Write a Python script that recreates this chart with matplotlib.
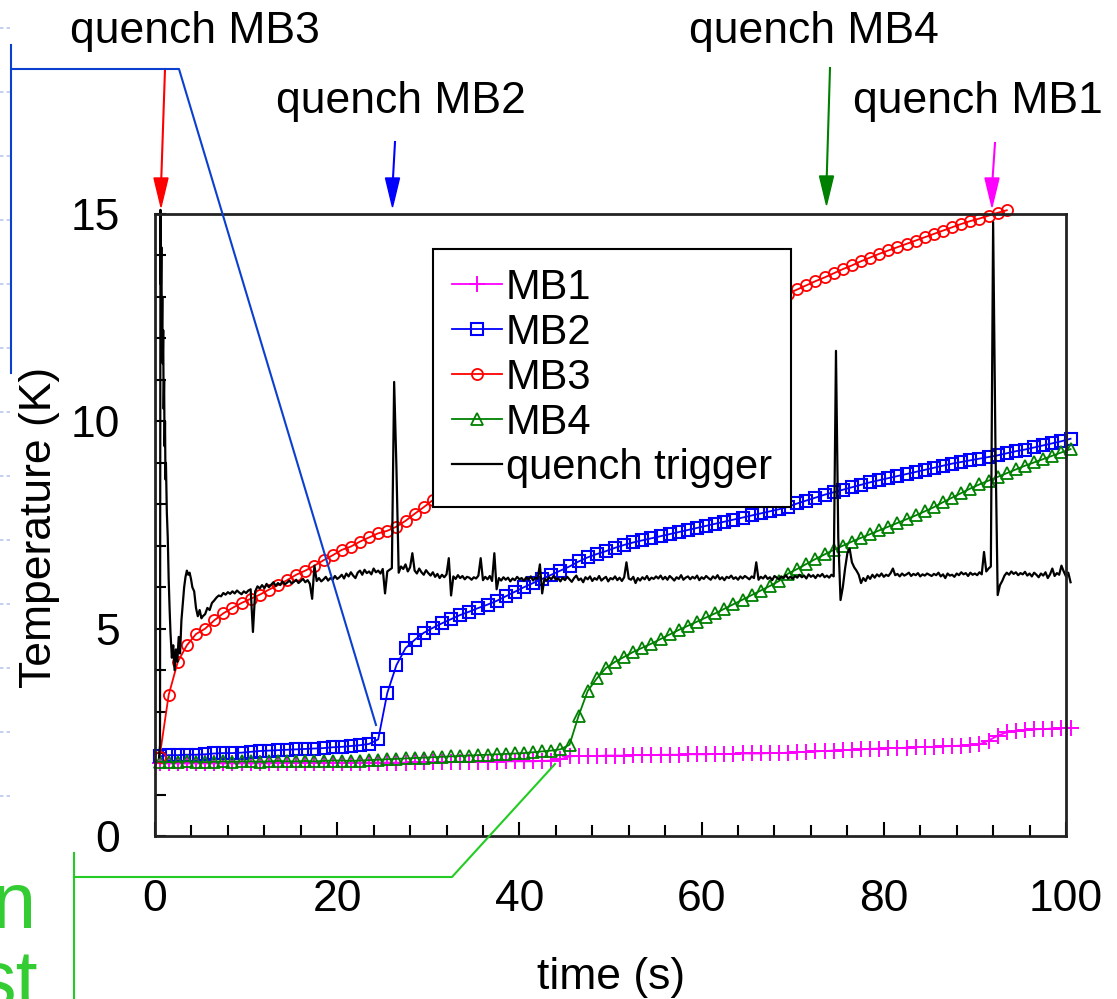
import numpy as np
import matplotlib
matplotlib.use("Agg")
import matplotlib.pyplot as plt
from matplotlib.lines import Line2D
from matplotlib.patches import Polygon
from matplotlib.ticker import MultipleLocator

plt.rcParams['font.family'] = ['Liberation Sans', 'DejaVu Sans']

# ---------------- data ----------------
# magnet temperatures sampled once per second, starting at t = 0.5 s
mb_start = 0.5
mb1 = [1.75, 1.75, 1.75, 1.75, 1.75, 1.75, 1.75, 1.75, 1.75, 1.75,
       1.75, 1.75, 1.75, 1.76, 1.76, 1.76, 1.76, 1.76, 1.76, 1.76,
       1.76, 1.76, 1.77, 1.77, 1.77, 1.77, 1.77, 1.77, 1.78, 1.78,
       1.78, 1.78, 1.78, 1.79, 1.79, 1.79, 1.79, 1.79, 1.80, 1.80,
       1.80, 1.80, 1.81, 1.82, 1.85, 1.92, 1.93, 1.93, 1.93, 1.94,
       1.94, 1.94, 1.95, 1.95, 1.95, 1.96, 1.96, 1.96, 1.97, 1.97,
       1.97, 1.98, 1.98, 1.98, 1.99, 1.99, 1.99, 2.00, 2.00, 2.01,
       2.02, 2.03, 2.04, 2.05, 2.06, 2.07, 2.08, 2.09, 2.10, 2.11,
       2.12, 2.12, 2.13, 2.14, 2.15, 2.15, 2.16, 2.17, 2.18, 2.19,
       2.21, 2.30, 2.42, 2.50, 2.53, 2.55, 2.57, 2.58, 2.59, 2.60, 2.61]

mb2 = [1.92, 1.95, 1.95, 1.96, 1.96, 1.97, 1.99, 2.00, 2.00, 2.01,
       2.03, 2.05, 2.06, 2.07, 2.08, 2.09, 2.10, 2.11, 2.12, 2.14,
       2.15, 2.17, 2.19, 2.22, 2.33, 3.45, 4.12, 4.53, 4.73, 4.90,
       5.02, 5.13, 5.23, 5.33, 5.41, 5.50, 5.58, 5.67, 5.78, 5.89,
       6.00, 6.10, 6.20, 6.30, 6.40, 6.50, 6.62, 6.72, 6.80, 6.87,
       6.95, 7.02, 7.08, 7.13, 7.18, 7.23, 7.28, 7.33, 7.38, 7.43,
       7.48, 7.53, 7.58, 7.63, 7.68, 7.73, 7.78, 7.83, 7.88, 7.94,
       8.02, 8.09, 8.16, 8.23, 8.29, 8.35, 8.41, 8.47, 8.53, 8.58,
       8.63, 8.68, 8.73, 8.78, 8.83, 8.88, 8.93, 8.98, 9.02, 9.06,
       9.10, 9.14, 9.18, 9.23, 9.28, 9.32, 9.37, 9.42, 9.47, 9.52, 9.58]

mb3 = [1.90, 3.40, 4.20, 4.60, 4.87, 5.00, 5.20, 5.37, 5.50, 5.62,
       5.72, 5.82, 5.94, 6.05, 6.17, 6.30, 6.40, 6.52, 6.65, 6.77,
       6.90, 6.98, 7.10, 7.20, 7.30, 7.36, 7.46, 7.60, 7.77, 7.93,
       8.10, 8.26, 8.42, 8.58, 8.73, 8.88, 9.03, 9.18, 9.33, 9.48,
       9.62, 9.76, 9.90, 10.04, 10.18, 10.31, 10.44, 10.57, 10.70, 10.83,
       10.96, 11.09, 11.21, 11.33, 11.45, 11.57, 11.69, 11.81, 11.92, 12.03,
       12.14, 12.25, 12.36, 12.47, 12.57, 12.68, 12.78, 12.88, 12.98, 13.08,
       13.18, 13.28, 13.38, 13.47, 13.57, 13.67, 13.76, 13.86, 13.95, 14.04,
       14.12, 14.20, 14.28, 14.36, 14.44, 14.52, 14.60, 14.68, 14.76, 14.83,
       14.89, 14.96, 15.03, 15.09]

mb4 = [1.79, 1.78, 1.79, 1.80, 1.79, 1.78, 1.79, 1.80, 1.79, 1.80,
       1.80, 1.79, 1.80, 1.81, 1.80, 1.80, 1.81, 1.80, 1.81, 1.82,
       1.82, 1.81, 1.82, 1.83, 1.84, 1.85, 1.86, 1.87, 1.88, 1.89,
       1.90, 1.91, 1.92, 1.93, 1.94, 1.95, 1.96, 1.97, 1.98, 1.99,
       2.00, 2.02, 2.04, 2.06, 2.09, 2.20, 2.90, 3.50, 3.80, 4.05,
       4.20, 4.32, 4.44, 4.54, 4.64, 4.75, 4.86, 4.97, 5.07, 5.17,
       5.27, 5.37, 5.48, 5.59, 5.70, 5.81, 5.92, 6.03, 6.15, 6.33,
       6.44, 6.56, 6.68, 6.79, 6.90, 7.00, 7.10, 7.19, 7.28, 7.37,
       7.46, 7.55, 7.64, 7.73, 7.83, 7.93, 8.05, 8.16, 8.27, 8.38,
       8.48, 8.57, 8.66, 8.75, 8.84, 8.93, 9.01, 9.09, 9.17, 9.25, 9.33]

# quench trigger signal: first seconds with irregular sampling ...
trig_head_t = [0.45, 0.55, 0.6, 0.65, 0.7, 0.75, 0.8, 0.85, 0.9, 0.95,
               1.0, 1.05, 1.1, 1.15, 1.2, 1.3, 1.4, 1.5, 1.6, 1.7,
               1.85, 2.0, 2.15, 2.3, 2.45, 2.6, 2.75, 2.9, 3.05, 3.2,
               3.35, 3.5, 3.65, 3.8, 3.95, 4.1, 4.3, 4.5, 4.7, 4.9, 5.1]
trig_head_v = [1.9, 2.2, 15.1, 13.3, 14.2, 12.2, 13.0, 11.4, 12.2, 10.3,
               11.0, 9.4, 10.0, 8.6, 9.0, 7.8, 7.2, 6.2, 5.5, 4.9,
               4.3, 4.6, 4.0, 4.5, 4.2, 4.8, 4.4, 5.2, 5.6, 6.0,
               6.25, 6.4, 6.3, 6.35, 6.2, 6.0, 5.9, 5.5, 5.3, 5.45, 5.25]
# ... then every 0.25 s from t = 5.25 s
trig_start, trig_step = 5.25, 0.25
trig_v = [
    5.30, 5.35, 5.50, 5.45, 5.62, 5.68, 5.75, 5.80, 5.78, 5.86, 5.82, 5.88, 5.84, 5.90, 5.85, 5.92, 5.87, 5.83, 5.90, 5.86,
    5.92, 5.95, 4.92, 5.90, 6.02, 5.97, 6.05, 5.98, 6.08, 6.00, 6.06, 6.12, 6.03, 6.10, 6.05, 6.14, 6.07, 6.11, 6.16, 6.09,
    6.13, 6.18, 6.10, 6.15, 6.20, 6.12, 6.17, 6.08, 5.72, 6.52, 6.15, 6.22, 6.14, 6.19, 6.25, 6.16, 6.22, 6.18, 6.27, 6.20,
    6.24, 6.30, 6.21, 6.33, 6.26, 6.36, 6.28, 6.22, 6.35, 6.40, 6.30, 6.42, 6.34, 6.38, 6.31, 6.45, 6.36, 6.40, 6.33, 6.44,
    5.85, 6.38, 6.42, 6.46, 10.95, 8.90, 6.35, 6.50, 6.44, 6.55, 6.38, 6.48, 6.82, 6.40, 6.33, 6.45, 6.36, 6.30, 6.41, 6.34,
    6.28, 6.36, 6.25, 6.32, 6.22, 6.30, 6.24, 6.31, 6.70, 5.80, 6.26, 6.20, 6.29, 6.22, 6.27, 6.19, 6.25, 6.23, 6.18, 6.24,
    6.21, 6.28, 6.70, 6.17, 6.25, 6.19, 6.27, 6.15, 6.82, 5.95, 6.22, 6.16, 6.24, 6.18, 6.23, 6.14, 6.21, 6.17, 6.25, 6.19,
    6.22, 6.15, 6.24, 6.18, 6.26, 6.16, 6.23, 6.20, 6.55, 5.85, 6.21, 6.16, 6.24, 6.19, 6.27, 6.18, 6.22, 6.14, 6.23, 6.17,
    6.25, 6.19, 6.13, 6.22, 6.28, 6.17, 6.21, 6.12, 6.24, 6.19, 6.26, 6.15, 6.22, 6.18, 6.27, 6.16, 6.21, 6.25, 6.14, 6.22,
    6.19, 6.26, 6.17, 6.23, 6.15, 6.24, 6.60, 6.21, 6.18, 6.25, 6.10, 6.22, 6.16, 6.24, 6.19, 6.27, 6.17, 6.23, 6.20, 6.26,
    6.21, 6.28, 6.19, 6.25, 6.18, 6.27, 6.22, 6.16, 6.24, 6.20, 6.29, 6.18, 6.23, 6.26, 6.19, 6.25, 6.21, 6.28, 6.17, 6.24,
    6.20, 6.27, 6.22, 6.18, 6.26, 6.21, 6.29, 6.19, 6.24, 6.17, 6.25, 6.22, 6.28, 6.20, 6.24, 6.18, 6.26, 6.21, 6.27, 6.23,
    6.19, 6.26, 6.22, 6.60, 6.18, 6.25, 6.21, 6.28, 6.20, 6.24, 6.17, 6.27, 6.23, 6.19, 6.26, 6.22, 6.29, 6.21, 6.25, 6.20,
    6.27, 6.23, 6.30, 6.24, 6.28, 6.21, 6.31, 6.25, 6.29, 6.22, 6.30, 6.26, 6.32, 6.24, 6.28, 6.23, 6.30, 6.26, 11.70, 7.20,
    5.69, 6.00, 6.45, 6.82, 6.93, 6.60, 6.48, 6.40, 6.30, 6.10, 6.22, 6.15, 6.27, 6.20, 6.30, 6.23, 6.31, 6.26, 6.33, 6.25,
    6.30, 6.27, 6.34, 6.45, 6.29, 6.32, 6.26, 6.33, 6.28, 6.31, 6.35, 6.27, 6.32, 6.29, 6.34, 6.26, 6.31, 6.28, 6.33, 6.30,
    6.27, 6.32, 6.29, 6.35, 6.26, 6.31, 6.22, 6.33, 6.28, 6.30, 6.25, 6.33, 6.29, 6.36, 6.31, 6.34, 6.27, 6.35, 6.30, 6.33,
    6.29, 6.36, 6.31, 6.85, 6.38, 6.45, 6.50, 14.80, 9.50, 5.81, 6.05, 6.15, 6.28, 6.35, 6.30, 6.38, 6.32, 6.36, 6.29, 6.34,
    6.31, 6.37, 6.28, 6.33, 6.26, 6.35, 6.30, 6.24, 6.33, 6.28, 6.36, 6.22, 6.31, 6.45, 6.27, 6.34, 6.30, 6.52, 6.38, 6.26,
    6.35, 6.12]

series_labels = ['MB1', 'MB2', 'MB3', 'MB4', 'quench trigger']
x_ticks = [0, 20, 40, 60, 80, 100]
y_ticks = [0, 5, 10, 15]

quench_labels = ['quench MB3', 'quench MB2', 'quench MB4', 'quench MB1']
quench_colors = ['#ff0000', '#0000ff', '#008000', '#ff00ff']

# ---------------- figure ----------------
W, H = 1117, 999
fig = plt.figure(figsize=(W / 100, H / 100), dpi=100)
fig.patch.set_facecolor('white')


def fx(px):
    return px / W


def fy(py):
    return 1 - py / H


ax = fig.add_axes([fx(155), fy(836), (1066 - 155) / W, (836 - 214) / H])

t_mb = mb_start + np.arange(len(mb1))
t_mb3 = mb_start + np.arange(len(mb3))
t_trig = np.concatenate([trig_head_t, trig_start + trig_step * np.arange(len(trig_v))])
v_trig = np.concatenate([trig_head_v, trig_v])

common = dict(lw=1.3, clip_on=False)
ax.plot(t_mb, mb1, color='#ff00ff', marker='+', ms=11, mew=1.4,
        label=series_labels[0], **common)
ax.plot(t_mb, mb2, color='#0000ff', marker='s', ms=9, mfc='none', mew=1.5,
        label=series_labels[1], **common)
ax.plot(t_mb3, mb3, color='#ff0000', marker='o', ms=8, mfc='none', mew=1.3,
        label=series_labels[2], **common)
ax.plot(t_mb, mb4, color='#008000', marker='^', ms=9, mfc='none', mew=1.3,
        label=series_labels[3], **common)
ax.plot(t_trig, v_trig, color='black', lw=1.6, clip_on=False,
        label=series_labels[4])

ax.set_xlim(0, 100)
ax.set_ylim(0, 15)
ax.xaxis.set_major_locator(MultipleLocator(20))
ax.xaxis.set_minor_locator(MultipleLocator(4))
ax.yaxis.set_major_locator(MultipleLocator(5))
ax.yaxis.set_minor_locator(MultipleLocator(1))
ax.set_xticks(x_ticks)
ax.set_yticks(y_ticks)
ax.set_xticklabels([str(v) for v in x_ticks])
ax.set_yticklabels([str(v) for v in y_ticks])
ax.tick_params(which='both', direction='in', top=False, right=False,
               width=1.5, colors='black', labelsize=32)
ax.tick_params(axis='x', which='major', length=10, pad=31)
ax.tick_params(axis='x', which='minor', length=8)
ax.tick_params(axis='y', which='major', length=8, pad=25)
ax.tick_params(axis='y', which='minor', length=8)
for sp in ax.spines.values():
    sp.set_linewidth(2.0)
    sp.set_color('#222222')

fig.text(fx(40), fy(527), 'Temperature (K)', rotation=90, ha='center',
         va='center', fontsize=32)
fig.text(fx(611), fy(977), 'time (s)', ha='center', va='center', fontsize=32)

leg = ax.legend(loc='upper left',
                bbox_to_anchor=((433 - 155) / 911, (836 - 249) / 622),
                borderaxespad=0, fontsize=30, frameon=True, fancybox=False,
                edgecolor='black', framealpha=1, handlelength=1.2,
                handletextpad=0.1, labelspacing=0.12, borderpad=0.45,
                numpoints=1)
leg.get_frame().set_linewidth(1.5)

# quench annotations above the frame
label_pos = [(195, 43), (401, 113), (814, 43), (978, 113)]
arrow_pos = [((165, 69), (161, 207)), ((395, 142), (392.5, 207)),
             ((830, 68), (826.5, 205)), ((995, 143), (992, 207))]
for lab, (lx, ly), col, ((x0, y0), (x1, y1)) in zip(
        quench_labels, label_pos, quench_colors, arrow_pos):
    fig.text(fx(lx), fy(ly), lab, ha='center', va='baseline', fontsize=32)
    fig.add_artist(Line2D([fx(x0), fx(x1)], [fy(y0), fy(y1 - 20)],
                          color=col, lw=1.5, transform=fig.transFigure))
    head = [(fx(x1 - 7), fy(y1 - 29)), (fx(x1 + 7), fy(y1 - 29)),
            (fx(x1), fy(y1))]
    fig.add_artist(Polygon(head, closed=True, color=col,
                           transform=fig.transFigure))

# callout lines
blue_call = '#0a3fd0'
fig.add_artist(Line2D([fx(11), fx(11)], [fy(45), fy(373)], color=blue_call,
                      lw=1.5, transform=fig.transFigure))
fig.add_artist(Line2D([fx(11), fx(179), fx(376)], [fy(69), fy(69), fy(725)],
                      color=blue_call, lw=1.5, transform=fig.transFigure))
green_call = '#22cc22'
fig.add_artist(Line2D([fx(74), fx(74)], [fy(853), fy(999)], color=green_call,
                      lw=1.5, transform=fig.transFigure))
fig.add_artist(Line2D([fx(74), fx(452), fx(555)], [fy(877), fy(877), fy(764)],
                      color=green_call, lw=1.5, transform=fig.transFigure))

# word endings of a side caption running in from the left edge
side_font = ['Liberation Sans Narrow', 'Liberation Sans', 'DejaVu Sans']
fig.text(fx(37), fy(928), 'on', ha='right', va='baseline', fontsize=57,
         color='#33cc33', family=side_font)
fig.text(fx(38), fy(1006), 'st', ha='right', va='baseline', fontsize=57,
         color='#33cc33', family=side_font)

# faint dotted marks along the left edge
for yy in range(28, 800, 64):
    fig.add_artist(Line2D([0, fx(10)], [fy(yy), fy(yy)], color='#b8c8f0',
                          lw=1.2, dashes=(2, 2), transform=fig.transFigure))

fig.savefig('out.png', dpi=100)
